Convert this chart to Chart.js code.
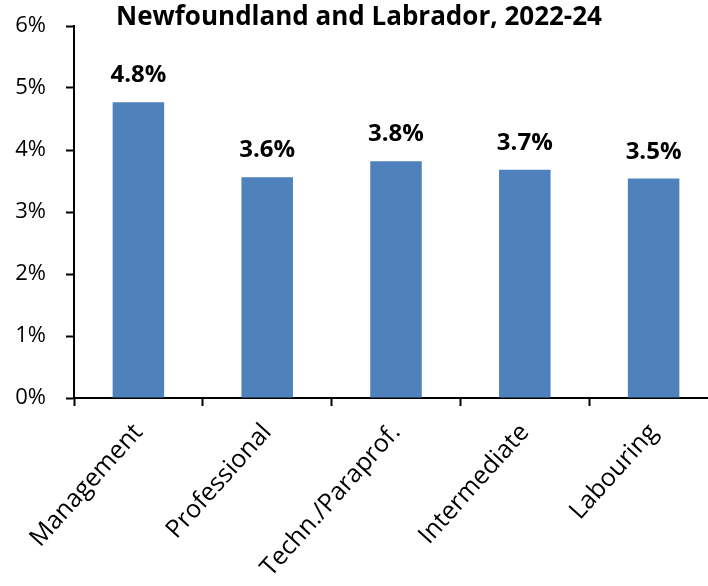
<!DOCTYPE html>
<html>
<head>
<meta charset="utf-8">
<script src="https://cdn.jsdelivr.net/npm/chart.js@4/dist/chart.umd.min.js"></script>
<style>
  html, body { margin: 0; padding: 0; background: #fff; overflow: hidden; }
</style>
</head>
<body>
<canvas id="myChart" width="738" height="586"></canvas>
<script>
// Chart data
const categories = ['Management', 'Professional', 'Techn./Paraprof.', 'Intermediate', 'Labouring'];
const rates = [4.77, 3.56, 3.82, 3.68, 3.54];
const rateLabels = ['4.8%', '3.6%', '3.8%', '3.7%', '3.5%'];
const yTickValues = [0, 1, 2, 3, 4, 5, 6];
const chartTitle = 'Newfoundland and Labrador, 2022-24';

const FONT = '"Open Sans", sans-serif';

// Simple plugin to draw the value labels above each bar
const barLabels = {
    id: 'barLabels',
    afterDatasetsDraw(chart) {
        const ctx = chart.ctx;
        const meta = chart.getDatasetMeta(0);
        ctx.save();
        ctx.font = 'bold 24px ' + FONT;
        ctx.fillStyle = '#000';
        ctx.textAlign = 'center';
        ctx.textBaseline = 'alphabetic';
        meta.data.forEach((bar, i) => {
            ctx.fillText(rateLabels[i], bar.x, bar.y - 20);
        });
        ctx.restore();
    }
};

const ctx = document.getElementById('myChart').getContext('2d');
new Chart(ctx, {
    type: 'bar',
    data: {
        labels: categories,
        datasets: [{
            data: rates,
            backgroundColor: '#4F81BD',
            borderWidth: 0,
            barPercentage: 0.8,
            categoryPercentage: 0.5
        }]
    },
    options: {
        responsive: false,
        animation: false,
        layout: { padding: { left: 0, right: 20, top: 0, bottom: 0 } },
        plugins: {
            legend: { display: false },
            tooltip: { enabled: false },
            title: {
                display: true,
                text: chartTitle,
                color: '#000',
                font: { family: FONT, size: 26, weight: 'bold', lineHeight: 1 },
                padding: { top: 5, bottom: -5 }
            }
        },
        scales: {
            x: {
                grid: {
                    offset: true,
                    drawOnChartArea: false,
                    tickLength: 8,
                    tickColor: '#000',
                    tickWidth: 2
                },
                border: { color: '#000', width: 2 },
                ticks: {
                    color: '#000',
                    font: { family: FONT, size: 25 },
                    minRotation: 48,
                    maxRotation: 48,
                    padding: 12
                },
                afterFit: s => { s.height = 586 - 398; }
            },
            y: {
                min: 0,
                max: 6,
                afterBuildTicks: s => { s.ticks = yTickValues.map(v => ({ value: v })); },
                grid: {
                    drawOnChartArea: false,
                    tickLength: 8,
                    tickColor: '#000',
                    tickWidth: 2
                },
                border: { color: '#000', width: 2 },
                ticks: {
                    color: '#000',
                    font: { family: FONT, size: 22 },
                    padding: 20,
                    callback: v => v + '%'
                },
                afterFit: s => { s.width = 74; s.paddingTop = 0; s.paddingBottom = 0; }
            }
        }
    },
    plugins: [barLabels]
});
</script>
</body>
</html>
